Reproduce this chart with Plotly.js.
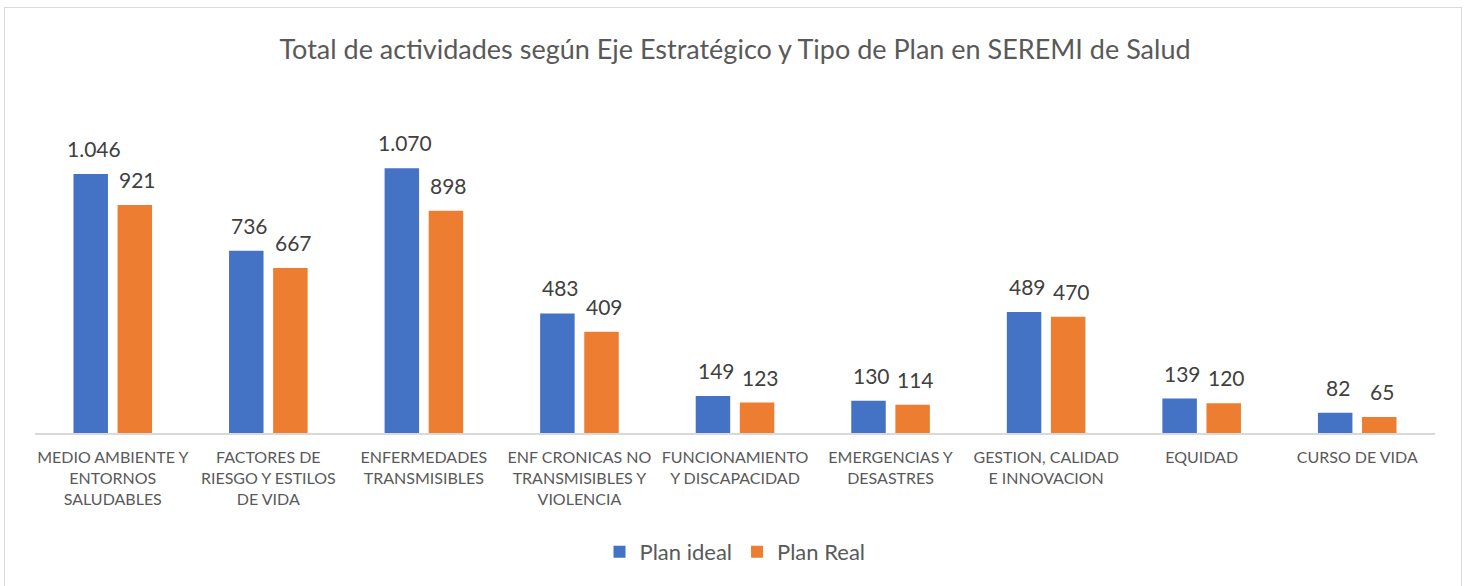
<!DOCTYPE html>
<html>
<head>
<meta charset="utf-8">
<script src="https://cdn.plot.ly/plotly-3.0.1.min.js"></script>
<style>
  html, body { margin: 0; padding: 0; background: #fff; }
  #wrap { position: relative; width: 1470px; height: 586px; overflow: hidden; }
  #chart { width: 1470px; height: 586px; }
  #frame { position: absolute; left: 4px; top: 7px; width: 1458px; height: 640px;
           border: 1.5px solid #d9d9d9; pointer-events: none; box-sizing: border-box; }
</style>
</head>
<body>
<div id="wrap">
  <div id="chart"></div>
  <div id="frame"></div>
</div>
<script>
const categories = [
  "MEDIO AMBIENTE Y<br>ENTORNOS<br>SALUDABLES",
  "FACTORES DE<br>RIESGO Y ESTILOS<br>DE VIDA",
  "ENFERMEDADES<br>TRANSMISIBLES",
  "ENF CRONICAS NO<br>TRANSMISIBLES Y<br>VIOLENCIA",
  "FUNCIONAMIENTO<br>Y DISCAPACIDAD",
  "EMERGENCIAS Y<br>DESASTRES",
  "GESTION, CALIDAD<br>E INNOVACION",
  "EQUIDAD",
  "CURSO DE VIDA"
];
const planIdeal = [1046, 736, 1070, 483, 149, 130, 489, 139, 82];
const planReal  = [921, 667, 898, 409, 123, 114, 470, 120, 65];
const seriesNames = ["Plan ideal", "Plan Real"];
const seriesColors = ["#4472C4", "#ED7D31"];

const FONT = "Lato, 'Open Sans', sans-serif";

function fmt(v) {
  return String(v).replace(/\B(?=(\d{3})+(?!\d))/g, ".");
}

const traces = [planIdeal, planReal].map((vals, k) => ({
  type: "bar",
  name: seriesNames[k],
  x: categories,
  y: vals,
  marker: { color: seriesColors[k] },
  hoverinfo: "skip"
}));

const annotations = [];
[planIdeal, planReal].forEach((vals, k) => {
  vals.forEach((v, i) => {
    annotations.push({
      x: categories[i], y: v, xref: "x", yref: "y",
      text: fmt(v), showarrow: false,
      xanchor: "center", yanchor: "bottom",
      xshift: k === 0 ? -19 : 25, yshift: 11,
      font: { family: FONT, size: 21, color: "#404040" }
    });
  });
});

const layout = {
  width: 1470, height: 586,
  paper_bgcolor: "#ffffff", plot_bgcolor: "#ffffff",
  margin: { l: 35, r: 35, t: 136, b: 153, pad: 0 },
  font: { family: FONT, color: "#595959" },
  title: {
    text: "Total de actividades según Eje Estratégico y Tipo de Plan en SEREMI de Salud",
    font: { family: FONT, size: 27, color: "#595959" },
    x: 0.5, xanchor: "center", y: 1 - 50 / 586, yanchor: "middle", yref: "container"
  },
  barmode: "group",
  bargap: 0.433,
  bargroupgap: 0.218,
  xaxis: {
    type: "category",
    showline: true, linecolor: "#d9d9d9", linewidth: 2,
    ticks: "", showgrid: false, zeroline: false,
    tickfont: { family: FONT, size: 16, color: "#595959" },
    ticklabelstandoff: 9
  },
  yaxis: {
    visible: false, range: [0, 1200], showgrid: false, zeroline: false
  },
  showlegend: true,
  legend: {
    orientation: "h", x: 0.5, xanchor: "center",
    y: 1 - 552 / 586, yanchor: "middle", yref: "container",
    font: { family: FONT, size: 22, color: "#595959" },
    itemwidth: 30
  },
  annotations: annotations
};

Plotly.newPlot("chart", traces, layout, { displayModeBar: false, staticPlot: true });
</script>
</body>
</html>
